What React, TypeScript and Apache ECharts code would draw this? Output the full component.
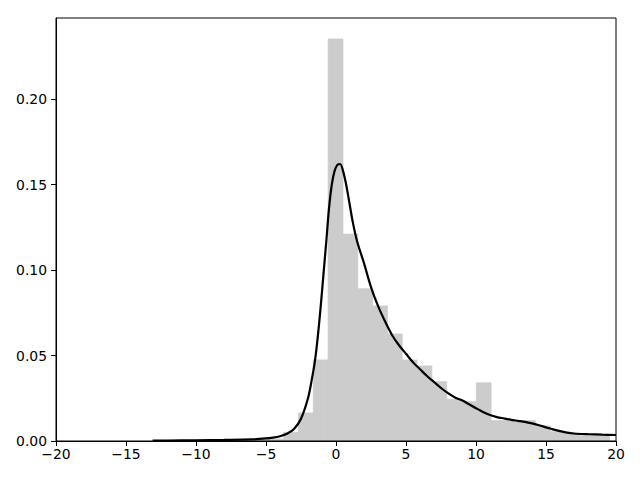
import React, { useEffect, useRef } from "react";
import * as echarts from "echarts";

// Histogram bins (left edge, right edge, density)
const binWidth = 1.058;
const firstBinLeft = -6.91;
const binDensity = [
  0.0004, 0.0008, 0.0012, 0.0051, 0.0164, 0.0474, 0.2351, 0.121, 0.089, 0.079,
  0.0626, 0.0474, 0.0439, 0.0347, 0.0244, 0.023, 0.034, 0.0119, 0.0119, 0.0119,
  0.0088, 0.0055, 0.004, 0.003, 0.003,
];

// KDE curve samples
const kdeX = [
  -13.1, -12, -10, -8, -6, -5, -4.5, -4, -3.5, -3, -2.5, -2, -1.75, -1.5, -1.3, -1.1,
  -0.9, -0.7, -0.5, -0.3, -0.1, 0.1, 0.3, 0.5, 0.7, 0.9, 1.2, 1.5, 2, 2.5, 3, 3.5, 4,
  4.5, 5, 5.5, 6, 6.5, 7, 7.5, 8, 8.5, 9, 9.5, 10, 10.5, 11, 11.5, 12, 12.5, 13, 13.5,
  14, 14.5, 15, 15.5, 16, 16.5, 17, 18, 19, 20,
];
const kdeY = [
  0.0003, 0.0003, 0.0004, 0.0006, 0.0009, 0.0015, 0.002, 0.0028, 0.0042, 0.007, 0.013,
  0.025, 0.035, 0.047, 0.061, 0.078, 0.097, 0.116, 0.136, 0.15, 0.158, 0.1615, 0.162,
  0.158, 0.151, 0.142, 0.128, 0.117, 0.104, 0.09, 0.079, 0.07, 0.062, 0.056, 0.051,
  0.046, 0.042, 0.038, 0.0345, 0.031, 0.028, 0.0255, 0.0238, 0.0215, 0.0192, 0.017,
  0.0152, 0.014, 0.0132, 0.0124, 0.0118, 0.0112, 0.0103, 0.0092, 0.008, 0.0068, 0.0058,
  0.0049, 0.0044, 0.004, 0.0037, 0.0035,
];

const xTicks = [-20, -15, -10, -5, 0, 5, 10, 15, 20];
const yTicks = [0, 0.05, 0.1, 0.15, 0.2];

export default function App() {
  const ref = useRef<HTMLDivElement>(null);
  useEffect(() => {
    if (!ref.current) return;
    const chart = echarts.init(ref.current, null, { renderer: "svg" });
    const bars = binDensity.map((d, i) => [
      firstBinLeft + i * binWidth,
      firstBinLeft + (i + 1) * binWidth,
      d,
    ]);
    const line = kdeX.map((x, i) => [x, kdeY[i]]);
    const font = { fontFamily: "DejaVu Sans", fontSize: 13.9, color: "#000" };
    chart.setOption({
      animation: false,
      backgroundColor: "#fff",
      grid: {
        left: 56,
        right: 24,
        top: 18,
        bottom: 39,
        show: true,
        borderColor: "#000",
        borderWidth: 1,
        backgroundColor: "transparent",
        z: 5,
      },
      xAxis: {
        type: "value",
        min: -20,
        max: 20,
        interval: 5,
        splitLine: { show: false },
        axisLine: { show: true, onZero: false, lineStyle: { color: "#000", width: 1 } },
        axisTick: { show: true, length: 5, lineStyle: { color: "#000" }, customValues: xTicks },
        axisLabel: {
          ...font,
          margin: 6,
          customValues: xTicks,
          formatter: (v: number) => (v < 0 ? "\u2212" + Math.abs(v) : String(v)),
        },
      },
      yAxis: {
        type: "value",
        min: 0,
        max: 0.2474,
        splitLine: { show: false },
        axisLine: { show: true, onZero: false, lineStyle: { color: "#000", width: 1 } },
        axisTick: { show: true, length: 5, lineStyle: { color: "#000" }, customValues: yTicks },
        axisLabel: {
          ...font,
          margin: 9,
          customValues: yTicks,
          formatter: (v: number) => v.toFixed(2),
        },
      },
      series: [
        {
          type: "custom",
          data: bars,
          clip: true,
          renderItem: (params: any, api: any) => {
            const x0 = api.value(0);
            const x1 = api.value(1);
            const y = api.value(2);
            const p0 = api.coord([x0, y]);
            const p1 = api.coord([x1, 0]);
            return {
              type: "rect",
              shape: { x: p0[0], y: p0[1], width: p1[0] - p0[0], height: p1[1] - p0[1] },
              style: { fill: "#cccccc", stroke: "#cccccc", lineWidth: 0.8 },
            };
          },
          encode: { x: [0, 1], y: 2 },
          z: 1,
        },
        {
          type: "line",
          data: line,
          smooth: 0.3,
          showSymbol: false,
          clip: true,
          lineStyle: { color: "#000", width: 2.2 },
          z: 2,
        },
      ],
    });
    return () => chart.dispose();
  }, []);
  return <div ref={ref} style={{ width: 640, height: 480, margin: -8 }} />;
}
